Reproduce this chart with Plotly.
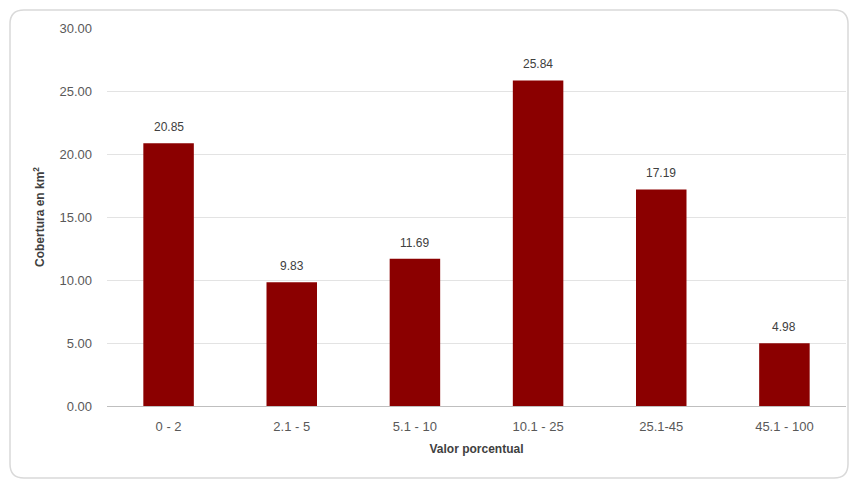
import plotly.graph_objects as go

categories = ["0 - 2", "2.1 - 5", "5.1 - 10", "10.1 - 25", "25.1-45", "45.1 - 100"]
values = [20.85, 9.83, 11.69, 25.84, 17.19, 4.98]
y_ticks = [0, 5, 10, 15, 20, 25, 30]
y_tick_labels = ["0.00", "5.00", "10.00", "15.00", "20.00", "25.00", "30.00"]

W, H = 852, 481
ml, mr, mt, mb = 107, 6, 28, 75
pw, ph = W - ml - mr, H - mt - mb

FONT = "Liberation Sans Narrow, Arial Narrow, Liberation Sans, Arial, sans-serif"

fig = go.Figure(go.Bar(
    x=categories, y=values,
    marker=dict(color="#8b0000", line=dict(width=0)),
    showlegend=False,
))
for c, v in zip(categories, values):
    fig.add_annotation(x=c, y=v, text=f"{v:.2f}", showarrow=False,
                       yanchor="middle", yshift=16,
                       font=dict(family=FONT, size=12, color="#404040"))

def px2paper_x(px):
    return (px - ml) / pw

def px2paper_y(py):
    return (H - mb - py) / ph

# rounded border
x0, x1, y0, y1, r = 10, 848, 10, 478, 14
def P(x, y):
    return f"{px2paper_x(x):.5f},{px2paper_y(y):.5f}"
path = (f"M {P(x0+r, y0)} L {P(x1-r, y0)} Q {P(x1, y0)} {P(x1, y0+r)} "
        f"L {P(x1, y1-r)} Q {P(x1, y1)} {P(x1-r, y1)} "
        f"L {P(x0+r, y1)} Q {P(x0, y1)} {P(x0, y1-r)} "
        f"L {P(x0, y0+r)} Q {P(x0, y0)} {P(x0+r, y0)} Z")

fig.update_layout(
    width=W, height=H,
    margin=dict(l=ml, r=mr, t=mt, b=mb),
    paper_bgcolor="white", plot_bgcolor="white",
    bargap=0.59,
    showlegend=False,
    font=dict(family=FONT, color="#595959"),
    shapes=[dict(type="path", xref="paper", yref="paper", path=path,
                 line=dict(color="#d9d9d9", width=1.5), fillcolor="rgba(0,0,0,0)", layer="below")],
    xaxis=dict(
        showgrid=False, showline=True, linecolor="#bfbfbf", linewidth=1,
        tickfont=dict(family=FONT, size=13, color="#595959"),
        ticklabelstandoff=8,
        title=dict(text="<b>Valor porcentual</b>", font=dict(family="Liberation Sans, Arial, sans-serif", size=12, color="#404040"), standoff=12),
        ticks="",
    ),
    yaxis=dict(
        range=[0, 30], tickvals=y_ticks, ticktext=y_tick_labels,
        showgrid=True, gridcolor="#e3e3e3", gridwidth=1,
        zeroline=False, showline=False,
        tickfont=dict(family=FONT, size=13, color="#595959"),
        ticklabelstandoff=14,
        title=dict(text="<b>Cobertura en km<sup>2</sup></b>", font=dict(family="Liberation Sans, Arial, sans-serif", size=12, color="#404040"), standoff=12),
    ),
)

fig.write_html("out.html")
